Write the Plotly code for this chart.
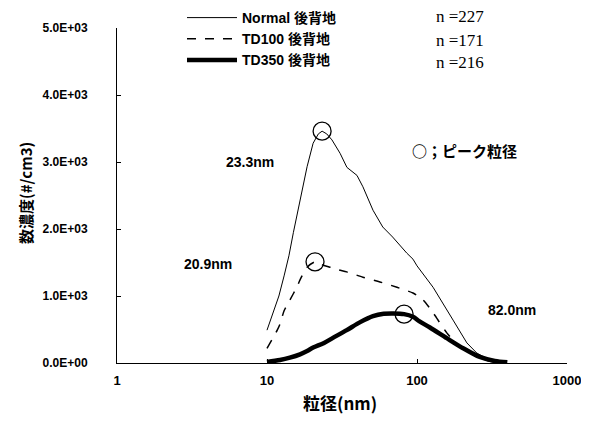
import plotly.graph_objects as go

# ---- data ----
normal_x = [10, 11, 12, 13, 14, 15, 16.6, 18.5, 20.3, 22, 23.3, 25, 27.1, 30.7, 34.1, 37.3, 39.8,
            43.6, 50.9, 59.1, 68.8, 85.5, 94, 100, 128, 174, 215, 250, 300, 350]
normal_y = [490, 750, 1000, 1300, 1600, 1950, 2430, 2930, 3280, 3420, 3460, 3420, 3330, 3130, 2920,
            2850, 2800, 2630, 2280, 2030, 1880, 1640, 1550, 1450, 1130, 640, 300, 150, 50, 10]

td100_x = [10, 11, 11.7, 12.2, 13, 14.2, 15.8, 16.6, 18.5, 20.9, 23, 26.3, 30, 34, 43.6, 56.6,
           73.5, 94, 110, 128, 158, 193, 237, 290, 340]
td100_y = [220, 380, 490, 580, 780, 940, 1130, 1240, 1430, 1510, 1470, 1430, 1390, 1360, 1280,
           1210, 1130, 1045, 940, 750, 450, 240, 130, 40, 5]

td350_x = [10, 12.2, 14.2, 16.6, 18.5, 20.3, 24, 27.5, 34, 41.8, 50.9, 60, 70, 82, 94, 104, 122,
           158, 203, 262, 330, 400]
td350_y = [15, 45, 80, 130, 180, 230, 300, 375, 490, 610, 700, 735, 740, 730, 690, 620, 530,
           370, 220, 90, 30, 10]

peak_x = [23.3, 20.9, 82.0]
peak_y = [3460, 1510, 730]
peak_labels = ["23.3nm", "20.9nm", "82.0nm"]

series_names = ["Normal 後背地", "TD100 後背地", "TD350 後背地"]
n_labels = ["n =227", "n =171", "n =216"]

y_tickvals = [0, 1000, 2000, 3000, 4000, 5000]
y_ticktext = ["0.0E+00", "1.0E+03", "2.0E+03", "3.0E+03", "4.0E+03", "5.0E+03"]
x_tickvals = [1, 10, 100, 1000]
x_ticktext = ["1", "10", "100", "1000"]

SANS = "Liberation Sans, Noto Sans CJK JP, sans-serif"
CJK = "Noto Sans CJK JP, Liberation Sans, sans-serif"

# page body has an 8px margin; figure is sized to fit the 589x421 window
OFF = 8
FIG_W, FIG_H = 589 - OFF, 421 - OFF
PL, PT, PR, PB = 117, 28, 567, 363          # plot area in window pixels
def px(xw):
    return (xw - PL) / (PR - PL)
def py(yw):
    return (PB - yw) / (PB - PT)

fig = go.Figure()
fig.add_trace(go.Scatter(x=normal_x, y=normal_y, mode="lines", name=series_names[0],
                         line=dict(color="black", width=1)))
fig.add_trace(go.Scatter(x=td100_x, y=td100_y, mode="lines", name=series_names[1],
                         line=dict(color="black", width=1.5, dash="dash",
                                   shape="spline", smoothing=0.6)))
fig.add_trace(go.Scatter(x=td350_x, y=td350_y, mode="lines", name=series_names[2],
                         line=dict(color="black", width=4.5, shape="spline", smoothing=0.8)))
fig.add_trace(go.Scatter(x=peak_x, y=peak_y, mode="markers", showlegend=False,
                         marker=dict(symbol="circle-open", size=18, color="black",
                                     line=dict(width=1.3, color="black"))))

lab_font = dict(family=SANS, size=14, color="black", weight="bold")
for t, (xw, yw) in zip(peak_labels, [(250, 162), (208, 264), (512, 310)]):
    fig.add_annotation(xref="paper", yref="paper", x=px(xw), y=py(yw), text=t,
                       xanchor="center", yanchor="middle", showarrow=False, font=lab_font)

fig.add_annotation(xref="paper", yref="paper", x=px(464), y=py(150),
                   text="○；ピーク粒径", xanchor="center", yanchor="middle", showarrow=False,
                   font=dict(family=CJK, size=15, color="black", weight="bold"))

for t, yw in zip(n_labels, [17, 40, 62]):
    fig.add_annotation(xref="paper", yref="paper", x=px(460), y=py(yw), text=t,
                       xanchor="center", yanchor="middle", showarrow=False,
                       font=dict(family="Liberation Serif, serif", size=17, color="black"))

# axis titles
fig.add_annotation(xref="paper", yref="paper", x=px(25), y=py(193),
                   text="数濃度(#/cm3)", textangle=-90, xanchor="center", yanchor="middle",
                   showarrow=False,
                   font=dict(family=CJK, size=15, color="black", weight="bold"))
fig.add_annotation(xref="paper", yref="paper", x=px(340), y=py(402),
                   text="粒径(nm)", xanchor="center", yanchor="middle", showarrow=False,
                   font=dict(family=CJK, size=17, color="black", weight="bold"))

fig.update_layout(
    width=FIG_W, height=FIG_H,
    margin=dict(l=PL - OFF, r=FIG_W - (PR - OFF), t=PT - OFF, b=FIG_H - (PB - OFF),
                autoexpand=False),
    paper_bgcolor="white", plot_bgcolor="white",
    showlegend=True,
    legend=dict(x=px(182), y=py(2), xanchor="left", yanchor="top",
                itemwidth=50,
                bgcolor="rgba(0,0,0,0)", tracegroupgap=0,
                font=dict(family=SANS, size=14, color="black", weight="bold")),
)
fig.update_xaxes(type="log", range=[0, 3], tickvals=x_tickvals, ticktext=x_ticktext,
                 showgrid=False, zeroline=False, showline=True, linecolor="black", linewidth=1,
                 ticks="inside", ticklen=4, tickcolor="black", ticklabelstandoff=5,
                 tickfont=dict(family=SANS, size=13, color="black", weight="bold"))
fig.update_yaxes(range=[0, 5000], tickvals=y_tickvals, ticktext=y_ticktext,
                 showgrid=False, zeroline=False, showline=True, linecolor="black", linewidth=1,
                 ticks="inside", ticklen=4, tickcolor="black", ticklabelstandoff=26,
                 tickfont=dict(family=SANS, size=12, color="black", weight="bold"))

fig.write_html("out.html")
